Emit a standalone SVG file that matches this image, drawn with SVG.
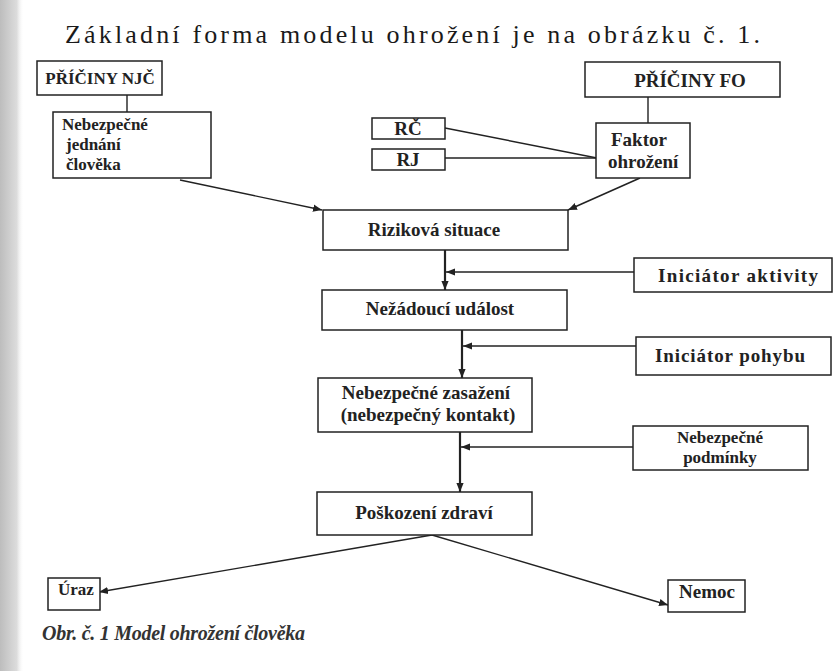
<svg xmlns="http://www.w3.org/2000/svg" width="840" height="671" viewBox="0 0 840 671">
<defs>
<linearGradient id="shadow" x1="0" x2="1" y1="0" y2="0">
<stop offset="0" stop-color="#bdbdbd"/>
<stop offset="0.7" stop-color="#dcdcdc"/>
<stop offset="1" stop-color="#ffffff" stop-opacity="0"/>
</linearGradient>
<marker id="arr" viewBox="0 0 10 10" refX="10" refY="5" markerWidth="9" markerHeight="9" markerUnits="userSpaceOnUse" orient="auto"><path d="M0,1 L10,5 L0,9 z" fill="#222"/></marker>
<style>
.box{fill:#fff;stroke:#222;stroke-width:1.5}
text{font-family:'Liberation Serif','DejaVu Serif','Times New Roman',serif}
.lbl{font-size:19px;font-weight:bold;fill:#222}
.up{font-size:17px}
.sm{font-size:17px}
.c{text-anchor:middle}
.ln{stroke:#222;stroke-width:1.4;fill:none}
.thick{stroke-width:2.2}
.title{font-size:26px;fill:#1a1a1a}
.cap{font-size:20px;font-style:italic;font-weight:bold;fill:#333}
</style>
</defs>
<rect x="0" y="0" width="840" height="671" fill="#fff"/>
<rect x="0" y="0" width="24" height="671" fill="url(#shadow)"/>
<text class="title" x="65" y="43" textLength="695" lengthAdjust="spacing">Základní forma modelu ohrožení je na obrázku č. 1.</text>

<g id="connectors">
<path class="ln" d="M127,95 V112"/>
<path class="ln" d="M648,97 V123"/>
<path class="ln" d="M180,180 L322,210" marker-end="url(#arr)"/>
<path class="ln" d="M640,178 L568,210" marker-end="url(#arr)"/>
<path class="ln" d="M445,128 L597,158"/>
<path class="ln" d="M445,158 L597,158"/>
<path class="ln thick" d="M445,250 V290" marker-end="url(#arr)"/>
<path class="ln" d="M634,272 H446" marker-end="url(#arr)"/>
<path class="ln thick" d="M462,330 V378" marker-end="url(#arr)"/>
<path class="ln" d="M636,346 H463" marker-end="url(#arr)"/>
<path class="ln thick" d="M460,432 V492" marker-end="url(#arr)"/>
<path class="ln" d="M633,447 H461" marker-end="url(#arr)"/>
<path class="ln" d="M432,535 L99,592" marker-end="url(#arr)"/>
<path class="ln" d="M432,535 L668,605" marker-end="url(#arr)"/>
</g>

<g id="priciny-njc"><rect class="box" x="37" y="61" width="125" height="34"/><text class="lbl up c" x="100" y="84">PŘÍČINY NJČ</text></g>
<g id="priciny-fo"><rect class="box" x="585" y="62" width="195" height="35"/><text class="lbl c" x="690" y="87">PŘÍČINY FO</text></g>
<g id="nebezpecne-jednani"><rect class="box" x="53" y="112" width="158" height="66"/><text class="lbl sm" x="62" y="130">Nebezpečné</text><text class="lbl sm" x="66" y="150">jednání</text><text class="lbl sm" x="66" y="170">člověka</text></g>
<g id="rc"><rect class="box" x="372" y="118" width="73" height="21"/><text class="lbl c" x="408" y="135">RČ</text></g>
<g id="rj"><rect class="box" x="372" y="149" width="73" height="21"/><text class="lbl c" x="408" y="166">RJ</text></g>
<g id="faktor"><rect class="box" x="596" y="123" width="94" height="55"/><text class="lbl" x="611" y="146">Faktor</text><text class="lbl" x="608" y="168">ohrožení</text></g>
<g id="rizikova"><rect class="box" x="323" y="210" width="245" height="40"/><text class="lbl c" x="434" y="236">Riziková situace</text></g>
<g id="iniciator-aktivity"><rect class="box" x="634" y="258" width="198" height="34"/><text class="lbl c" x="738" y="282" textLength="160" lengthAdjust="spacing">Iniciátor aktivity</text></g>
<g id="nezadouci"><rect class="box" x="322" y="290" width="245" height="40"/><text class="lbl c" x="440" y="315">Nežádoucí událost</text></g>
<g id="iniciator-pohybu"><rect class="box" x="636" y="337" width="195" height="38"/><text class="lbl c" x="730" y="362" textLength="150" lengthAdjust="spacing">Iniciátor pohybu</text></g>
<g id="zasazeni"><rect class="box" x="318" y="378" width="214" height="54"/><text class="lbl c" x="426" y="399">Nebezpečné zasažení</text><text class="lbl c" x="428" y="421">(nebezpečný kontakt)</text></g>
<g id="podminky"><rect class="box" x="633" y="426" width="175" height="44"/><text class="lbl sm c" x="720" y="443">Nebezpečné</text><text class="lbl sm c" x="720" y="463">podmínky</text></g>
<g id="poskozeni"><rect class="box" x="317" y="492" width="215" height="43"/><text class="lbl c" x="424" y="519">Poškození zdraví</text></g>
<g id="uraz"><rect class="box" x="48" y="578" width="52" height="32"/><text class="lbl sm" x="58" y="595">Úraz</text></g>
<g id="nemoc"><rect class="box" x="668" y="580" width="77" height="32"/><text class="lbl c" x="707" y="598">Nemoc</text></g>

<text class="cap" x="42" y="640" textLength="263" lengthAdjust="spacing">Obr. č. 1 Model ohrožení člověka</text>
</svg>
